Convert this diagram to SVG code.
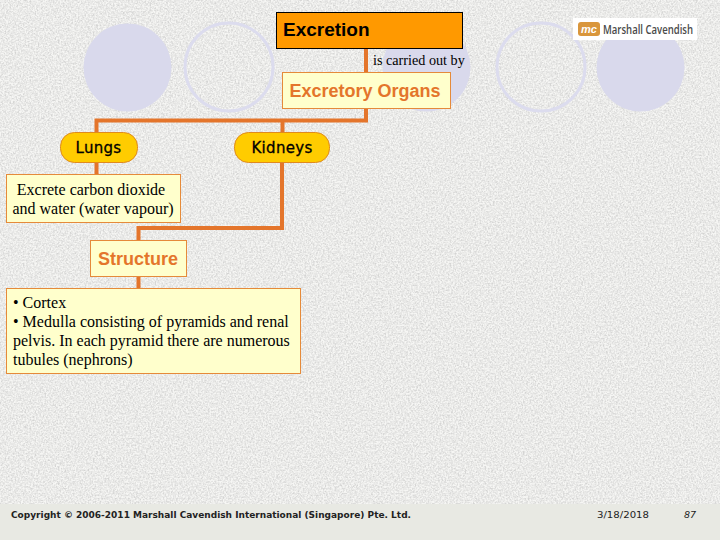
<svg xmlns="http://www.w3.org/2000/svg" width="720" height="540" viewBox="0 0 720 540">
<style>
.disc{fill:#d9d9ec}
.ring{fill:none;stroke:#dcdcee;stroke-width:3}
.conn{fill:none;stroke:#e4752b;stroke-width:4}
.pale{fill:#ffffcc;stroke:#e58a3a;stroke-width:1}
.pill{fill:#ffcc00;stroke:#e08a1e;stroke-width:1}
.sans{font-family:"Liberation Sans",Arial,sans-serif}
.serif{font-family:"Liberation Serif","Times New Roman",serif;font-size:16px;fill:#000}
.head{font-size:18px;font-weight:bold;fill:#e4752b;text-anchor:middle}
.pilltext{font-family:"DejaVu Sans",sans-serif;font-size:15px;fill:#000;stroke:#000;stroke-width:.3;text-anchor:middle;letter-spacing:.3px}
.foot{font-family:"DejaVu Sans",sans-serif;font-size:9.5px;fill:#222}
</style>
<defs>
<filter id="grain" x="0" y="0" width="100%" height="100%">
<feTurbulence type="fractalNoise" baseFrequency="0.6" numOctaves="3" seed="4"/>
<feColorMatrix type="matrix" values="0 0 0 0 0.45  0 0 0 0 0.45  0 0 0 0 0.45  1.4 1.4 0 0 -1.05"/>
</filter>
</defs>
<rect width="720" height="540" fill="#f6f6f4"/>
<rect width="720" height="504" filter="url(#grain)" opacity="0.5"/>
<rect y="504" width="720" height="36" fill="#e8e9e3"/>
<g id="decor">
<circle class="disc" cx="127.500" cy="67.500" r="44"/>
<circle class="ring" cx="229" cy="67" r="44"/>
<circle class="disc" cx="426.500" cy="67.500" r="44"/>
<circle class="ring" cx="541" cy="67" r="44"/>
<circle class="disc" cx="640.500" cy="67.500" r="44"/>
</g>
<g id="logo">
<rect x="573" y="18" width="124" height="22" fill="#fff"/>
<rect x="578" y="22" width="22" height="14" rx="3" fill="#d9963c"/>
<text x="589" y="33" class="sans" font-size="11" font-style="italic" font-weight="bold" fill="#fff" text-anchor="middle">mc</text>
<text x="603" y="33.500" font-family="'Open Sans',sans-serif" font-size="12" font-weight="600" fill="#4a4a4a" textLength="90" lengthAdjust="spacingAndGlyphs">Marshall Cavendish</text>
</g>
<g id="connectors">
<path class="conn" d="M366 48V72M366 108V120.500H96.500V132M282.500 120.500V132M96.500 162V174M282 162V228H138.500V240M138.500 276V288"/>
</g>
<g id="excretion">
<rect x="276.500" y="12.500" width="186" height="36" fill="#ff9900" stroke="#000" stroke-width="1"/>
<text x="283" y="36" class="sans" font-size="19" font-weight="bold" fill="#000">Excretion</text>
</g>
<g id="carried-label">
<text x="373" y="65" class="serif" style="font-size:14.200px">is carried out by</text>
</g>
<g id="excretory-organs">
<rect class="pale" x="282.500" y="72.500" width="168" height="36"/>
<text x="365" y="96.500" class="sans head">Excretory Organs</text>
</g>
<g id="lungs">
<rect class="pill" x="60.500" y="132.500" width="77" height="30" rx="14"/>
<text x="98.500" y="153" class="pilltext">Lungs</text>
</g>
<g id="kidneys">
<rect class="pill" x="234.500" y="132.500" width="95" height="30" rx="14"/>
<text x="282" y="153" class="pilltext">Kidneys</text>
</g>
<g id="lungs-detail">
<rect class="pale" x="6.500" y="174.500" width="174" height="48"/>
<text x="91" y="194.500" class="serif" text-anchor="middle">Excrete carbon dioxide</text>
<text x="93" y="213.500" class="serif" text-anchor="middle">and water (water vapour)</text>
</g>
<g id="structure">
<rect class="pale" x="90.500" y="240.500" width="96" height="36"/>
<text x="138" y="264.500" class="sans head">Structure</text>
</g>
<g id="structure-detail">
<rect class="pale" x="6.500" y="288.500" width="294" height="85"/>
<text x="13" y="307.500" class="serif">• Cortex</text>
<text x="13" y="326.500" class="serif">• Medulla consisting of pyramids and renal</text>
<text x="13" y="345.500" class="serif">pelvis. In each pyramid there are numerous</text>
<text x="13" y="364.500" class="serif">tubules (nephrons)</text>
</g>
<g id="footer">
<text x="11" y="518" class="foot" font-weight="bold" textLength="400" lengthAdjust="spacingAndGlyphs">Copyright © 2006-2011 Marshall Cavendish International (Singapore) Pte. Ltd.</text>
<text x="597" y="518" class="foot" textLength="52" lengthAdjust="spacingAndGlyphs">3/18/2018</text>
<text x="684" y="518" class="foot" font-style="italic">87</text>
</g>
</svg>
